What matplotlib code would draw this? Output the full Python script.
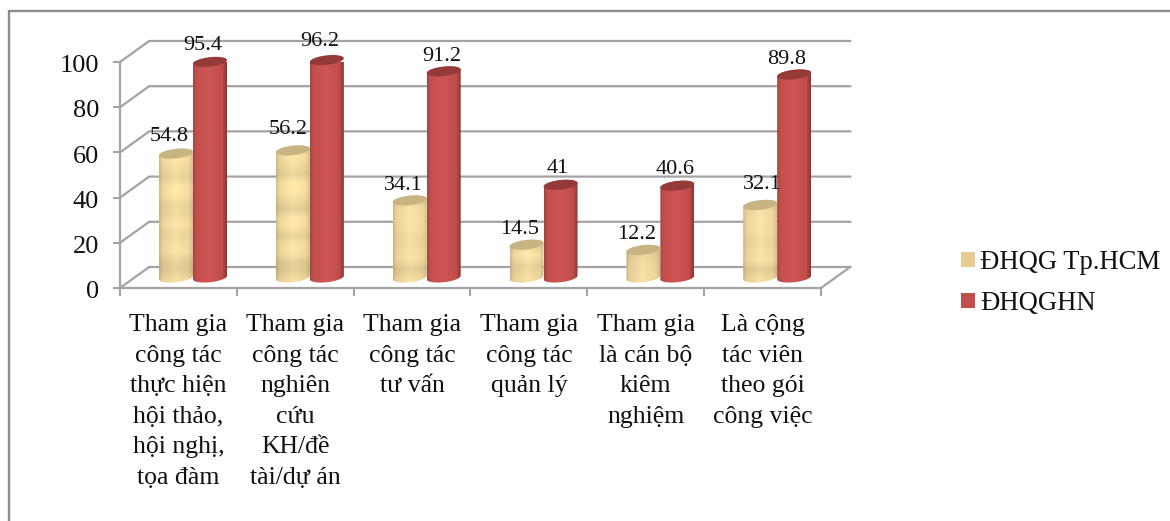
import numpy as np
import matplotlib
matplotlib.use("Agg")
import matplotlib.pyplot as plt
from matplotlib.patches import Patch, Polygon, Rectangle
from matplotlib.transforms import ScaledTranslation

plt.rcParams['font.family'] = ['Liberation Serif', 'DejaVu Serif']

categories = [
    "Tham gia\ncông tác\nthực hiện\nhội thảo,\nhội nghị,\ntọa đàm",
    "Tham gia\ncông tác\nnghiên\ncứu\nKH/đề\ntài/dự án",
    "Tham gia\ncông tác\ntư vấn",
    "Tham gia\ncông tác\nquản lý",
    "Tham gia\nlà cán bộ\nkiêm\nnghiệm",
    "Là cộng\ntác viên\ntheo gói\ncông việc",
]
hcm_values = [54.8, 56.2, 34.1, 14.5, 12.2, 32.1]
hn_values = [95.4, 96.2, 91.2, 41, 40.6, 89.8]
hcm_labels = ["54.8", "56.2", "34.1", "14.5", "12.2", "32.1"]
hn_labels = ["95.4", "96.2", "91.2", "41", "40.6", "89.8"]
series_names = ["ĐHQG Tp.HCM", "ĐHQGHN"]
y_ticks = [0, 20, 40, 60, 80, 100]

W, H = 1170, 521
GRID = '#a3a3a3'
# depth of the 3d box, in data units
DEPTH_X = 0.25
DEPTH_Y = 9.3
BAR_W = 0.291
ELL_H = 2.1
TILT = 1.6

# label nudges in points, hand placed so they sit clear of the neighbouring bar
hcm_dx = [-3.0, -1.5, -3.0, -3.0, -3.0, 3.5]
hcm_dy = [-1.5, 1.0, -3.5, -3.0, -3.0, 0.5]
hn_dx = [-3.5, -3.5, 0.5, -0.5, 0, -3.5]
hn_dy = [-2.0, -0.5, -3.0, -2.0, -2.0, -2.7]

stop_pos = [0, 0.1, 0.5, 0.88, 1]
tan_stops = np.array([[208, 184, 132], [232, 208, 152], [248, 226, 166], [238, 214, 156], [212, 190, 138]]) / 255
red_stops = np.array([[168, 68, 66], [196, 80, 78], [205, 86, 84], [192, 76, 74], [136, 54, 52]]) / 255
tan_bands = [1.0, 0.93, 0.93, 1.02, 1.02, 0.95, 1.03, 1.03, 0.94, 0.99, 1.04, 1.04, 0.95, 1.0, 1.03, 0.94]


def ellipse_pts(cx, cy, start=0, stop=2 * np.pi):
    t = np.linspace(start, stop, 50)
    dx = np.cos(t)
    return np.column_stack([cx + BAR_W / 2 * dx, cy + ELL_H * np.sin(t) + TILT / 2 * dx])


def cylinder(ax, left, value, stops, top_color, bands=None):
    cx = left + BAR_W / 2
    base = DEPTH_Y / 2
    top = base + value
    grad = np.array([np.interp(np.linspace(0, 1, 40), stop_pos, stops[:, i]) for i in range(3)]).T
    if bands is None:
        img = grad[np.newaxis, :, :]
    else:
        rows = max(3, int(len(bands) * value / 55))
        shade = np.interp(np.linspace(0, len(bands) - 1, rows), np.arange(len(bands)), bands)
        img = np.clip(grad[np.newaxis, :, :] * shade[:, np.newaxis, np.newaxis], 0, 1)
    im = ax.imshow(img, extent=(left, left + BAR_W, base - 3, top + 3), aspect='auto',
                   origin='lower', interpolation='bilinear', zorder=3)
    # side wall outline: lower half of the base ellipse, upper ellipse on top
    outline = np.vstack([ellipse_pts(cx, base, np.pi, 2 * np.pi), ellipse_pts(cx, top, 0, np.pi)])
    clip = Polygon(outline, transform=ax.transData, fc='none', ec='none')
    ax.add_patch(clip)
    im.set_clip_path(clip)
    ax.add_patch(Polygon(ellipse_pts(cx, top), fc=top_color, ec='none', zorder=4, clip_on=False))


fig = plt.figure(figsize=(W / 100, H / 100), dpi=100)
fig.add_artist(Rectangle((9 / W, -0.02), 1.1, 1.02 - 11 / H, transform=fig.transFigure,
                         fc='none', ec='#8c8c8c', lw=1.7))
ax = fig.add_axes([120 / W, 1 - 288 / H, 701 / W, 226 / H])

x = np.arange(len(categories))
# gridlines run along the side wall and the back wall
for v in y_ticks:
    ax.plot([0, DEPTH_X, 6 + DEPTH_X], [v, v + DEPTH_Y, v + DEPTH_Y], color=GRID, lw=1.6,
            clip_on=False, zorder=1, solid_joinstyle='miter')
ax.plot([6, 6 + DEPTH_X], [0, DEPTH_Y], color=GRID, lw=1.6, clip_on=False, zorder=1)

for i in x:
    center = i + 0.5 + DEPTH_X / 2
    cylinder(ax, center - BAR_W, hcm_values[i], tan_stops, '#c8b482', tan_bands)
    cylinder(ax, center, hn_values[i], red_stops, '#943a38')
    ax.annotate(hcm_labels[i], (center - BAR_W / 2 - 0.02, hcm_values[i] + DEPTH_Y / 2 + 8.6),
                xytext=(hcm_dx[i], hcm_dy[i]), textcoords='offset points',
                ha='center', va='center', fontsize=16, color='#111111', zorder=6, annotation_clip=False)
    ax.annotate(hn_labels[i], (center + BAR_W / 2 - 0.02, hn_values[i] + DEPTH_Y / 2 + 8.4),
                xytext=(hn_dx[i], hn_dy[i]), textcoords='offset points',
                ha='center', va='center', fontsize=16, color='#111111', zorder=6, annotation_clip=False)

ax.set_xlim(0, 6)
ax.set_ylim(0, 100)
ax.set_yticks(y_ticks)
ax.set_xticks(np.arange(7))
ax.set_xticklabels([])
ax.set_xticks(x + 0.5, categories, minor=True, linespacing=1.496)
ax.tick_params(axis='y', labelsize=19, color=GRID, width=1.5, length=5, pad=10, labelcolor='#111111')
ax.tick_params(axis='x', which='major', color=GRID, width=1.5, length=5.5)
ax.tick_params(axis='x', which='minor', length=0, labelsize=18.5, pad=19, labelcolor='#111111')
ax.patch.set_visible(False)
for label in ax.get_yticklabels():
    label.set_transform(label.get_transform() + ScaledTranslation(0, -1.2 / 72, fig.dpi_scale_trans))
for side in ['top', 'right']:
    ax.spines[side].set_visible(False)
for side in ['left', 'bottom']:
    ax.spines[side].set_color(GRID)
    ax.spines[side].set_linewidth(1.6)
    ax.spines[side].set_zorder(2)

handles = [Patch(fc='#e6cc92', ec='none'), Patch(fc='#c0504d', ec='none')]
fig.legend(handles, series_names, loc='upper left', bbox_to_anchor=(961 / W, 1 - 250 / H),
           fontsize=19.2, frameon=False, handlelength=0.53, handleheight=0.53,
           handletextpad=0.2, labelspacing=0.6, borderpad=0, borderaxespad=0,
           labelcolor='#111111')

fig.savefig('out.png', dpi=100)
